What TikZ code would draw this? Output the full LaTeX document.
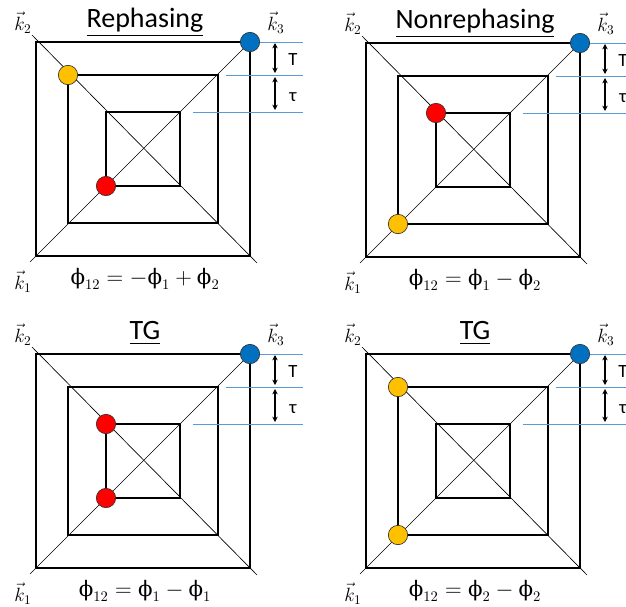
\documentclass[tikz,border=0pt]{standalone}
\usepackage{amsmath}
\usepackage{fontspec}
\setmainfont{Carlito}
\newfontfamily\phifont{DejaVu Serif}
\usetikzlibrary{arrows.meta, positioning}

\definecolor{pumpblue}{HTML}{0070C0}
\definecolor{pumpyellow}{HTML}{FFC000}
\definecolor{pumpred}{HTML}{FF0000}
\definecolor{delayblue}{HTML}{5B9BD5}
\newcommand{\uphi}{\text{\phifont ϕ}}

% one pathway diagram: #1 name prefix, #2 centre, #3 title, #4 phase, #5 dots
\newcommand{\pathwaybox}[5]{%
  \begin{scope}[shift={#2}]
    % squares and diagonals
    \draw[frame] (-107,-107) rectangle (107,107);
    \draw[frame] (-75,-74) rectangle (75,74);
    \draw[frame] (-37,-37) rectangle (37,37);
    \draw[diag] (-113,113) -- (107,-107);
    \draw[diag] (-111,-114) -- (114,114);
    % wavevectors
    \node[klabel] (#1k1) at (-120,133) {$\vec{k}_1$};
    \node[klabel] (#1k2) at (-120,-126) {$\vec{k}_2$};
    \node[klabel] (#1k3) at (133,-126) {$\vec{k}_3$};
    % title and phase
    \node[title, anchor=base] (#1title) at (2,-122) {\underline{#3}};
    \node[phase] (#1phase) at (2,130) {#4};
    % delay marks
    \draw[delay] (117,-107) -- (160,-107);
    \draw[delay] (83,-74) -- (160,-74);
    \draw[delay] (50,-37) -- (160,-37);
    \coordinate (#1a0) at (132,-106);
    \coordinate (#1a1) at (132,-76);
    \coordinate (#1a2) at (132,-72);
    \coordinate (#1a3) at (132,-39);
    \draw[span] (#1a0) -- (#1a1);
    \draw[span] (#1a2) -- (#1a3);
    \node[tlabel] (#1T) at (150,-89) {T};
    \node[tlabel] (#1tau) at (150,-52) {τ};
    % pulses
    #5
  \end{scope}}

\begin{document}
\begin{tikzpicture}[x=0.75pt, y=-0.75pt,
    frame/.style={line width=1.7pt},
    diag/.style={line width=0.5pt},
    delay/.style={delayblue, line width=0.7pt},
    span/.style={{Stealth[length=4pt,width=4pt]}-{Stealth[length=4pt,width=4pt]}, line width=0.8pt},
    dot/.style={circle, draw=black!80, line width=0.5pt, minimum size=14.5pt, inner sep=0pt},
    klabel/.style={font=\fontsize{14}{16}\selectfont},
    title/.style={font=\fontsize{21}{24}\selectfont},
    phase/.style={font=\fontsize{16}{18}\selectfont},
    tlabel/.style={font=\fontsize{14}{16}\selectfont}]
    \clip (0,0) rectangle (626,607);

    % Rephasing
    \pathwaybox{r}{(143,149)}{Rephasing}{$\uphi_{12} = -\uphi_1 + \uphi_2$}{%
      \node[dot, fill=pumpblue] (rblue) at (107,-107) {};
      \node[dot, fill=pumpyellow] (ryellow) at (-75,-74) {};
      \node[dot, fill=pumpred] (rred) at (-37,37) {};}

    % Nonrephasing
    \pathwaybox{n}{(473,150)}{Nonrephasing}{$\uphi_{12} = \uphi_1 - \uphi_2$}{%
      \node[dot, fill=pumpblue] (nblue) at (107,-107) {};
      \node[dot, fill=pumpred] (nred) at (-37,-37) {};
      \node[dot, fill=pumpyellow] (nyellow) at (-75,74) {};}

    % TG, pump 1
    \pathwaybox{g}{(143,461)}{TG}{$\uphi_{12} = \uphi_1 - \uphi_1$}{%
      \node[dot, fill=pumpblue] (gblue) at (107,-107) {};
      \node[dot, fill=pumpred] (gredtop) at (-37,-37) {};
      \node[dot, fill=pumpred] (gredbot) at (-37,37) {};}

    % TG, pump 2
    \pathwaybox{h}{(473,461)}{TG}{$\uphi_{12} = \uphi_2 - \uphi_2$}{%
      \node[dot, fill=pumpblue] (hblue) at (107,-107) {};
      \node[dot, fill=pumpyellow] (hyellowtop) at (-75,-74) {};
      \node[dot, fill=pumpyellow] (hyellowbot) at (-75,74) {};}
\end{tikzpicture}
\end{document}
